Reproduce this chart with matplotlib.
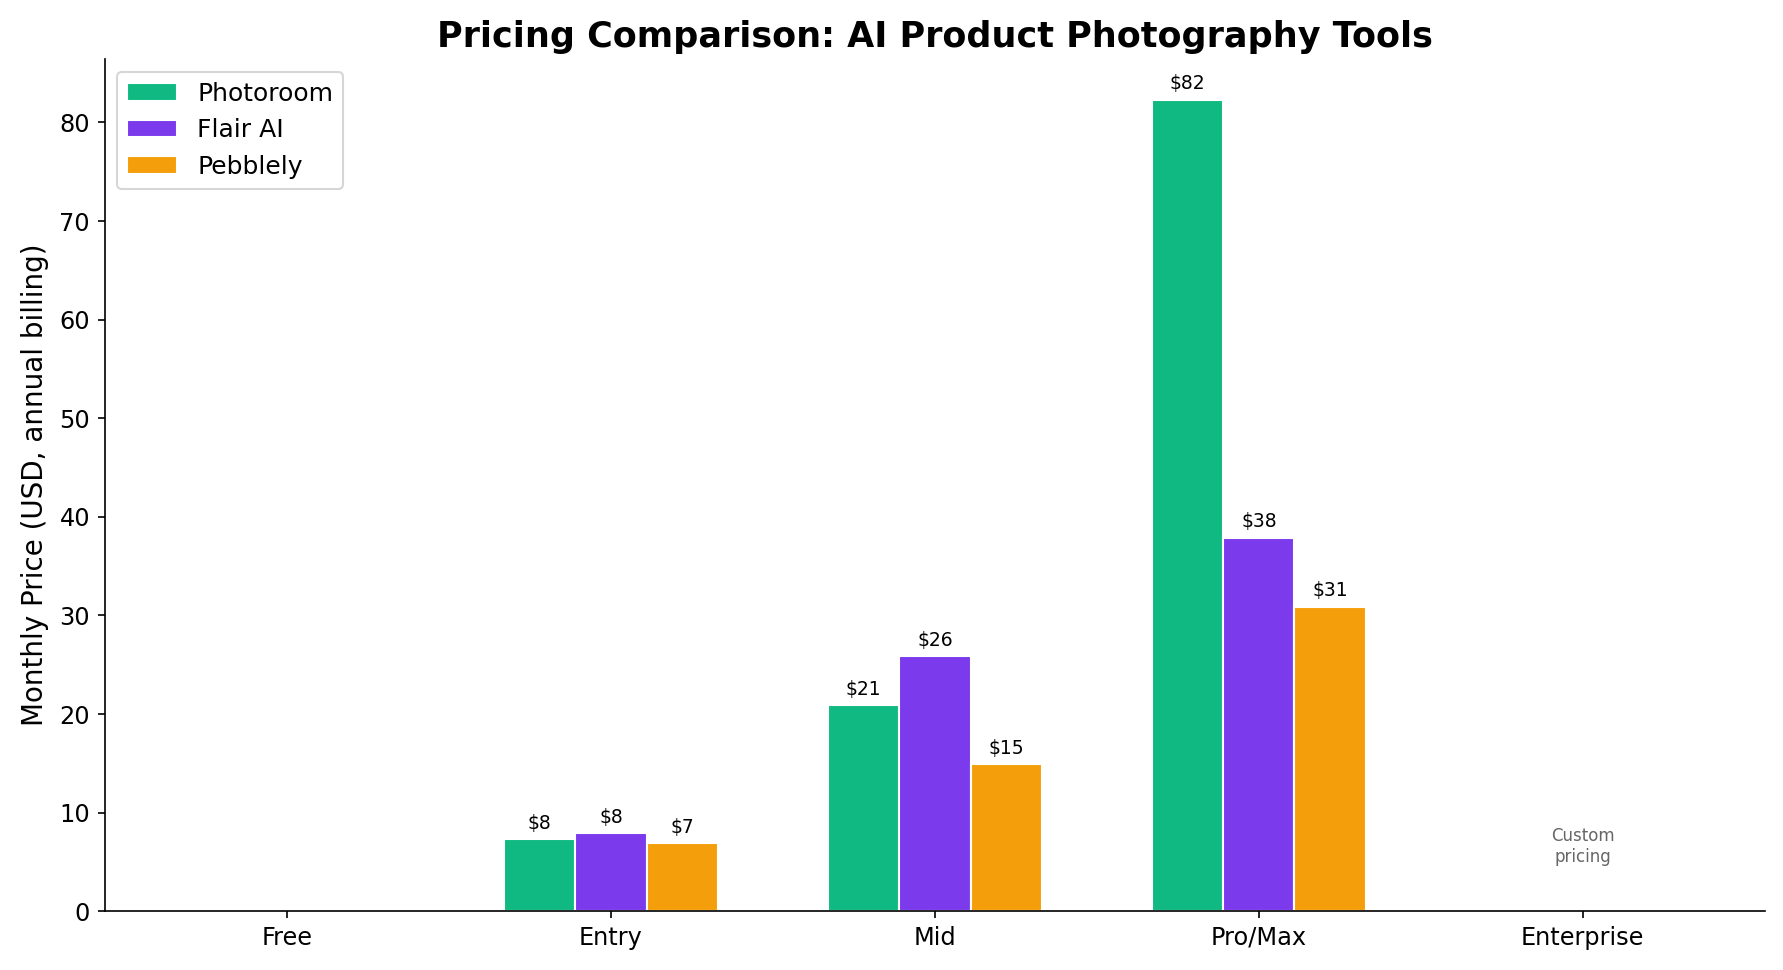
import matplotlib
matplotlib.use("Agg")
import matplotlib.pyplot as plt
import numpy as np

tiers = ["Free", "Entry", "Mid", "Pro/Max", "Enterprise"]
series = ["Photoroom", "Flair AI", "Pebblely"]
photoroom = [0, 7.35, 20.9, 82.3, 0]
flair_ai = [0, 7.9, 25.9, 37.9, 0]
pebblely = [0, 6.9, 14.9, 30.9, 0]
photoroom_labels = ["", "$8", "$21", "$82", ""]
flair_labels = ["", "$8", "$26", "$38", ""]
pebblely_labels = ["", "$7", "$15", "$31", ""]
colors = ["#10B981", "#7C3AED", "#F59E0B"]
enterprise_note = "Custom\npricing"

fig = plt.figure(figsize=(1783 / 150, 970 / 150), dpi=150)
ax = fig.add_axes([0.0587, 0.0605, 0.9313, 0.8785])

x = np.arange(len(tiers))
w = 0.22
data = [photoroom, flair_ai, pebblely]
labels = [photoroom_labels, flair_labels, pebblely_labels]
for i, (vals, name, col, labs) in enumerate(zip(data, series, colors, labels)):
    bars = ax.bar(x + (i - 1) * w, vals, w, label=name, color=col,
                  edgecolor="white", linewidth=1)
    for b, lab in zip(bars, labs):
        if lab:
            ax.annotate(lab, (b.get_x() + b.get_width() / 2, b.get_height()),
                        xytext=(0, 3), textcoords="offset points",
                        ha="center", va="bottom", fontsize=9)

ax.text(x[4], 4.6, enterprise_note, ha="center", va="bottom", fontsize=8,
        color="#666666")

ax.set_xticks(x)
ax.set_xticklabels(tiers, fontsize=11.5)
ax.tick_params(axis="y", labelsize=11.5)
ax.set_ylabel("Monthly Price (USD, annual billing)", fontsize=13.3, labelpad=5)
ax.set_title("Pricing Comparison: AI Product Photography Tools",
             fontsize=16.8, fontweight="bold")
ax.spines["top"].set_visible(False)
ax.spines["right"].set_visible(False)
ax.legend(loc="upper left", fontsize=12)

fig.savefig("out.png", dpi=150)
